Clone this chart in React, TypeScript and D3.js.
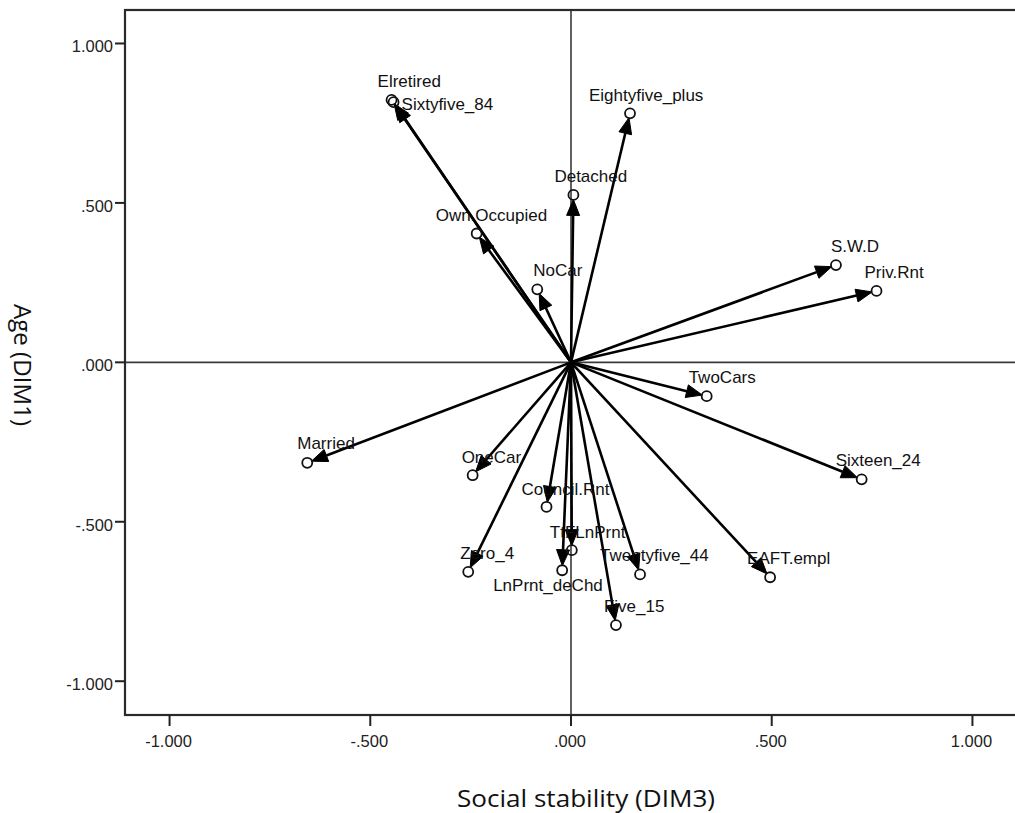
import React from "react";
import * as d3 from "d3";

// ---- data ----
const categories = [
  "Elretired", "Sixtyfive_84", "Eightyfive_plus", "Detached", "Own.Occupied", "NoCar",
  "S.W.D", "Priv.Rnt", "TwoCars", "Sixteen_24", "EAFT.empl", "Twentyfive_44",
  "Five_15", "TtFLnPrnt", "Council.Rnt", "LnPrnt_deChd", "Zero_4", "OneCar", "Married",
];
// Social stability (DIM3) – horizontal
const dim3 = [
  -0.447, -0.442, 0.147, 0.006, -0.235, -0.084,
  0.660, 0.761, 0.338, 0.724, 0.496, 0.172,
  0.112, 0.002, -0.061, -0.022, -0.256, -0.245, -0.657,
];
// Age (DIM1) – vertical
const dim1 = [
  0.823, 0.816, 0.781, 0.525, 0.404, 0.229,
  0.305, 0.224, -0.106, -0.367, -0.674, -0.665,
  -0.824, -0.589, -0.453, -0.652, -0.657, -0.354, -0.315,
];
const tickValues = [-1, -0.5, 0, 0.5, 1];
const tickLabels = ["-1.000", "-.500", ".000", ".500", "1.000"];
const xTitle = "Social stability (DIM3)";
const yTitle = "Age (DIM1)";

// ---- label placement (layout, not data): offset of label start / baseline from the point ----
const labelLayout: Record<string, [number, number]> = {
  "Elretired": [-14, -13],
  "Sixtyfive_84": [8, 8],
  "Eightyfive_plus": [-41, -12],
  "Detached": [-19, -13],
  "Own.Occupied": [-41, -13],
  "NoCar": [-4, -13],
  "S.W.D": [-5, -13],
  "Priv.Rnt": [-12, -13],
  "TwoCars": [-18, -13],
  "Sixteen_24": [-26, -13],
  "EAFT.empl": [-23, -13],
  "Twentyfive_44": [-40, -13],
  "Five_15": [-12, -13],
  "TtFLnPrnt": [-22, -12],
  "Council.Rnt": [-25, -12],
  "LnPrnt_deChd": [-69, 21],
  "Zero_4": [-8, -13],
  "OneCar": [-11, -12],
  "Married": [-10, -14],
};

const W = 1015;
const H = 813;
const FRAME = { left: 125, right: 1017, top: 10, bottom: 715 };

export default function App() {
  const x = d3.scaleLinear().domain([-1.111, 1.111]).range([FRAME.left, FRAME.right]);
  const y = d3.scaleLinear().domain([-1.106, 1.105]).range([FRAME.bottom, FRAME.top]);
  const ox = x(0);
  const oy = y(0);
  const r = 5;
  const headLen = 16;
  const headHalf = 6.5;

  const arrows = categories.map((name, i) => {
    const px = x(dim3[i]);
    const py = y(dim1[i]);
    const dx = px - ox;
    const dy = py - oy;
    const len = Math.hypot(dx, dy);
    const ux = dx / len;
    const uy = dy / len;
    const tipX = px - ux * (r - 0.5);
    const tipY = py - uy * (r - 0.5);
    const bx = tipX - ux * headLen;
    const by = tipY - uy * headLen;
    const nx = -uy;
    const ny = ux;
    const head = [
      [tipX, tipY],
      [bx + nx * headHalf, by + ny * headHalf],
      [bx - nx * headHalf, by - ny * headHalf],
    ];
    return { name, px, py, bx, by, head };
  });

  const line = d3.line();

  return (
    <svg
      width={W}
      height={H}
      style={{ position: "absolute", left: 0, top: 0, display: "block", background: "#fff" }}
    >
      <rect x={0} y={0} width={W} height={H} fill="#fff" />
      {/* zero reference lines */}
      <line x1={ox} x2={ox} y1={FRAME.top} y2={FRAME.bottom} stroke="#3a3a3a" strokeWidth={1.6} />
      <line x1={FRAME.left} x2={FRAME.right} y1={oy} y2={oy} stroke="#3a3a3a" strokeWidth={1.6} />

      {/* frame */}
      <rect
        x={FRAME.left}
        y={FRAME.top}
        width={FRAME.right - FRAME.left}
        height={FRAME.bottom - FRAME.top}
        fill="none"
        stroke="#2a2a2a"
        strokeWidth={2.2}
      />

      {/* y axis ticks */}
      {tickValues.map((v, i) => (
        <g key={"yt" + i}>
          <line x1={FRAME.left - 10} x2={FRAME.left} y1={y(v)} y2={y(v)} stroke="#222" strokeWidth={2} />
          <text
            x={FRAME.left - 12}
            y={y(v) + 9}
            textAnchor="end"
            fontFamily="'Liberation Sans', Arial, sans-serif"
            fontSize={16.5}
            fill="#222"
          >
            {tickLabels[i]}
          </text>
        </g>
      ))}

      {/* x axis ticks */}
      {tickValues.map((v, i) => (
        <g key={"xt" + i}>
          <line x1={x(v)} x2={x(v)} y1={FRAME.bottom} y2={FRAME.bottom + 11} stroke="#222" strokeWidth={2} />
          <text
            x={x(v) - 1}
            y={FRAME.bottom + 32}
            textAnchor="middle"
            fontFamily="'Liberation Sans', Arial, sans-serif"
            fontSize={16.5}
            fill="#222"
          >
            {tickLabels[i]}
          </text>
        </g>
      ))}

      {/* arrows */}
      {arrows.map((a) => (
        <g key={"a" + a.name}>
          <line x1={ox} y1={oy} x2={a.bx} y2={a.by} stroke="#000" strokeWidth={2.6} />
          <path d={line(a.head as [number, number][]) + "Z"} fill="#000" stroke="#000" strokeWidth={1} strokeLinejoin="miter" />
        </g>
      ))}

      {/* points */}
      {arrows.map((a) => (
        <circle key={"c" + a.name} cx={a.px} cy={a.py} r={r} fill="none" stroke="#111" strokeWidth={1.8} />
      ))}

      {/* labels */}
      {arrows.map((a) => {
        const [ldx, ldy] = labelLayout[a.name] || [0, -13];
        return (
          <text
            key={"l" + a.name}
            x={a.px + ldx}
            y={a.py + ldy}
            fontFamily="'Liberation Sans', Arial, sans-serif"
            fontSize={17}
            fill="#111"
          >
            {a.name}
          </text>
        );
      })}

      {/* axis titles */}
      <text
        x={586}
        y={807}
        textAnchor="middle"
        fontFamily="'Open Sans', 'Noto Sans', sans-serif"
        fontSize={24}
        textLength={258}
        lengthAdjust="spacingAndGlyphs"
        fill="#111"
      >
        {xTitle}
      </text>
      <text
        transform={`translate(14, 365) rotate(90)`}
        textAnchor="middle"
        fontFamily="'Open Sans', 'Noto Sans', sans-serif"
        fontSize={24}
        textLength={122}
        lengthAdjust="spacingAndGlyphs"
        fill="#111"
      >
        {yTitle}
      </text>
    </svg>
  );
}
